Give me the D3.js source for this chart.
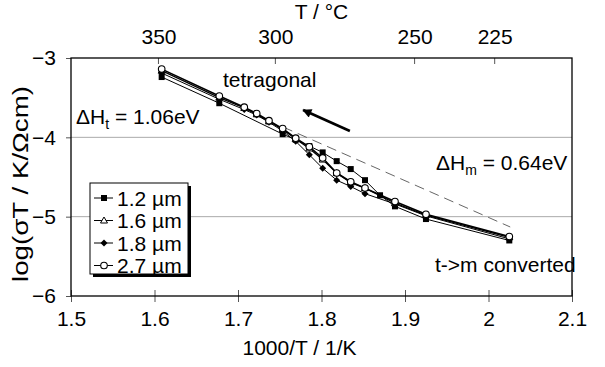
<!DOCTYPE html>
<html><head><meta charset="utf-8">
<script src="https://cdn.jsdelivr.net/npm/d3@7"></script>
<style>
body{margin:0;background:#fff;}
text{font-family:"Liberation Sans",Arial,sans-serif;fill:#000;}
</style></head>
<body><svg id="c" width="605" height="367"></svg>
<script>
// ---- data ----
const xTicks = [1.5,1.6,1.7,1.8,1.9,2.0,2.1];
const xTickLabels = ["1.5","1.6","1.7","1.8","1.9","2","2.1"];
const yTicks = [-3,-4,-5,-6];
const topTempsC = [350,300,250,225];
const seriesNames = ["1.2 µm","1.6 µm","1.8 µm","2.7 µm"];
const x12 = [1.6086,1.6776,1.7535,1.7691,1.7854,1.8014,1.8182,1.8350,1.8521,1.8701,1.8880,1.9251,2.0249];
const y12 = [-3.24,-3.57,-3.96,-4.03,-4.11,-4.19,-4.30,-4.40,-4.54,-4.73,-4.87,-5.03,-5.30];
const x16 = [1.6086,1.6776,1.7075,1.7224,1.7371,1.7535,1.7691,1.7854,1.8014,1.8182,1.8350,1.8521,1.8880,1.9251,2.0249];
const y16 = [-3.16,-3.50,-3.63,-3.71,-3.80,-3.90,-4.02,-4.14,-4.28,-4.45,-4.57,-4.64,-4.83,-4.98,-5.26];
const x18 = [1.6086,1.6776,1.7075,1.7224,1.7371,1.7535,1.7691,1.7854,1.8014,1.8182,1.8350,1.8521,1.8880,1.9251,2.0249];
const y18 = [-3.19,-3.52,-3.65,-3.72,-3.81,-3.92,-4.05,-4.22,-4.39,-4.54,-4.62,-4.71,-4.84,-4.99,-5.28];
const x27 = [1.6086,1.6776,1.7075,1.7224,1.7371,1.7535,1.7691,1.7854,1.8014,1.8182,1.8350,1.8521,1.8880,1.9251,2.0249];
const y27 = [-3.14,-3.48,-3.62,-3.70,-3.79,-3.89,-4.01,-4.12,-4.26,-4.45,-4.56,-4.64,-4.81,-4.97,-5.25];
const fitX = [1.754,2.026];
const fitY = [-3.87,-5.13];
const arrowX = [1.834,1.778];
const arrowY = [-3.92,-3.656];

// ---- chart ----
const svg = d3.select("#c");
const L=71,R=572,T=58,B=296;
const x = d3.scaleLinear().domain([1.5,2.1]).range([L,R]);
const y = d3.scaleLinear().domain([-6,-3]).range([B,T]);
const FS = 21;

// gridlines
svg.append("g").selectAll("line").data([-4,-5]).join("line")
  .attr("x1",L).attr("x2",R).attr("y1",d=>y(d)).attr("y2",d=>y(d))
  .attr("stroke","#aaa").attr("stroke-width",1);

// bottom axis
const gx = svg.append("g").attr("transform",`translate(0,${B})`)
  .call(d3.axisBottom(x).tickValues(xTicks).tickFormat((d,i)=>xTickLabels[i]).tickSize(6).tickPadding(9));
gx.select(".domain").remove();
gx.selectAll(".tick line").attr("y1",-6).attr("stroke","#555");
gx.selectAll("text").style("font-size",FS+"px");

// left axis
const gy = svg.append("g").attr("transform",`translate(${L},0)`)
  .call(d3.axisLeft(y).tickValues(yTicks).tickFormat(d3.format("d")).tickSize(5).tickPadding(10));
gy.select(".domain").remove();
gy.selectAll(".tick line").attr("stroke","#555");
gy.selectAll("text").style("font-size",FS+"px");

// top axis in °C
const gt = svg.append("g").attr("transform",`translate(0,${T})`)
  .call(d3.axisTop(x).tickValues(topTempsC.map(c=>1000/(c+273.15))).tickFormat((d,i)=>topTempsC[i]).tickSize(0).tickPadding(14));
gt.select(".domain").remove();
gt.selectAll("text").style("font-size",FS+"px");
svg.append("g").selectAll("line").data(topTempsC).join("line")
  .attr("x1",d=>x(1000/(d+273.15))).attr("x2",d=>x(1000/(d+273.15)))
  .attr("y1",T).attr("y2",T+6).attr("stroke","#555");

// frame
svg.append("rect").attr("x",L).attr("y",T).attr("width",R-L).attr("height",B-T)
  .attr("fill","none").attr("stroke","#000").attr("stroke-width",1.3);

// axis titles
svg.append("text").attr("x",(L+R)/2).attr("y",19).attr("text-anchor","middle").style("font-size",FS+"px").text("T / °C");
svg.append("text").attr("x",(L+R)/2 - 22).attr("y",355).attr("text-anchor","middle").style("font-size",FS+"px").text("1000/T / 1/K");
svg.append("text").attr("transform",`translate(28,${(T+B)/2 + 7}) rotate(-90)`).attr("text-anchor","middle")
  .style("font-size","22px").attr("textLength",196).attr("lengthAdjust","spacingAndGlyphs").text("log(σT / K/Ωcm)");

// fit dashed line
const line = d3.line().x(d=>x(d[0])).y(d=>y(d[1]));
svg.append("path").attr("d",line(d3.zip(fitX,fitY))).attr("fill","none")
  .attr("stroke","#555").attr("stroke-width",0.9).attr("stroke-dasharray","10,6");

// series
const series = [
  {name:seriesNames[0],xs:x12,ys:y12,sym:"square",w:1},
  {name:seriesNames[1],xs:x16,ys:y16,sym:"triangle",w:1.3},
  {name:seriesNames[2],xs:x18,ys:y18,sym:"diamond",w:1},
  {name:seriesNames[3],xs:x27,ys:y27,sym:"circle",w:1.6}
];
function drawSym(g,sym,cx,cy){
  if(sym==="square") g.append("rect").attr("x",cx-3).attr("y",cy-3).attr("width",6).attr("height",6).attr("fill","#000");
  else if(sym==="triangle") g.append("path").attr("d",`M${cx},${cy-3.5}L${cx+3.5},${cy+2.5}L${cx-3.5},${cy+2.5}Z`).attr("fill","#fff").attr("stroke","#000").attr("stroke-width",1);
  else if(sym==="diamond") g.append("path").attr("d",`M${cx},${cy-3.5}L${cx+3.5},${cy}L${cx},${cy+3.5}L${cx-3.5},${cy}Z`).attr("fill","#000");
  else g.append("circle").attr("cx",cx).attr("cy",cy).attr("r",3.3).attr("fill","#fff").attr("stroke","#000").attr("stroke-width",1.1);
}
series.forEach(s=>{
  const pts = d3.zip(s.xs,s.ys);
  svg.append("path").attr("d",line(pts)).attr("fill","none").attr("stroke","#000").attr("stroke-width",s.w);
});
series.forEach(s=>{
  const g = svg.append("g");
  d3.zip(s.xs,s.ys).forEach(p=>drawSym(g,s.sym,x(p[0]),y(p[1])));
});

// arrow
svg.append("defs").append("marker").attr("id","ah").attr("viewBox","0 0 10 10").attr("refX",9).attr("refY",5)
  .attr("markerWidth",4).attr("markerHeight",3.5).attr("orient","auto")
  .append("path").attr("d","M0,0L10,5L0,10Z").attr("fill","#000");
svg.append("line").attr("x1",x(arrowX[0])).attr("y1",y(arrowY[0])).attr("x2",x(arrowX[1])).attr("y2",y(arrowY[1]))
  .attr("stroke","#000").attr("stroke-width",2.6).attr("marker-end","url(#ah)");

// annotations
svg.append("text").attr("x",223).attr("y",87).style("font-size",FS+"px").text("tetragonal");
const t1 = svg.append("text").attr("x",76).attr("y",124).style("font-size",FS+"px");
t1.append("tspan").text("ΔH");
t1.append("tspan").attr("dy",5).style("font-size","14px").text("t");
t1.append("tspan").attr("dy",-5).text(" = 1.06eV");
const t2 = svg.append("text").attr("x",436).attr("y",170).style("font-size",FS+"px");
t2.append("tspan").text("ΔH");
t2.append("tspan").attr("dy",5).style("font-size","14px").text("m");
t2.append("tspan").attr("dy",-5).text(" = 0.64eV");
svg.append("text").attr("x",435).attr("y",272).style("font-size",FS+"px").text("t->m converted");

// legend
const lg = svg.append("g");
lg.append("rect").attr("x",93).attr("y",186).attr("width",98).attr("height",91).attr("fill","#000");
lg.append("rect").attr("x",90).attr("y",183).attr("width",98).attr("height",91).attr("fill","#fff").attr("stroke","#000").attr("stroke-width",1);
series.forEach((s,i)=>{
  const cy = 198 + i*22.5;
  lg.append("line").attr("x1",94).attr("x2",113).attr("y1",cy).attr("y2",cy).attr("stroke","#000").attr("stroke-width",1);
  drawSym(lg,s.sym,104,cy);
  lg.append("text").attr("x",117).attr("y",cy+7.5).style("font-size",FS+"px").text(s.name);
});
</script></body></html>
